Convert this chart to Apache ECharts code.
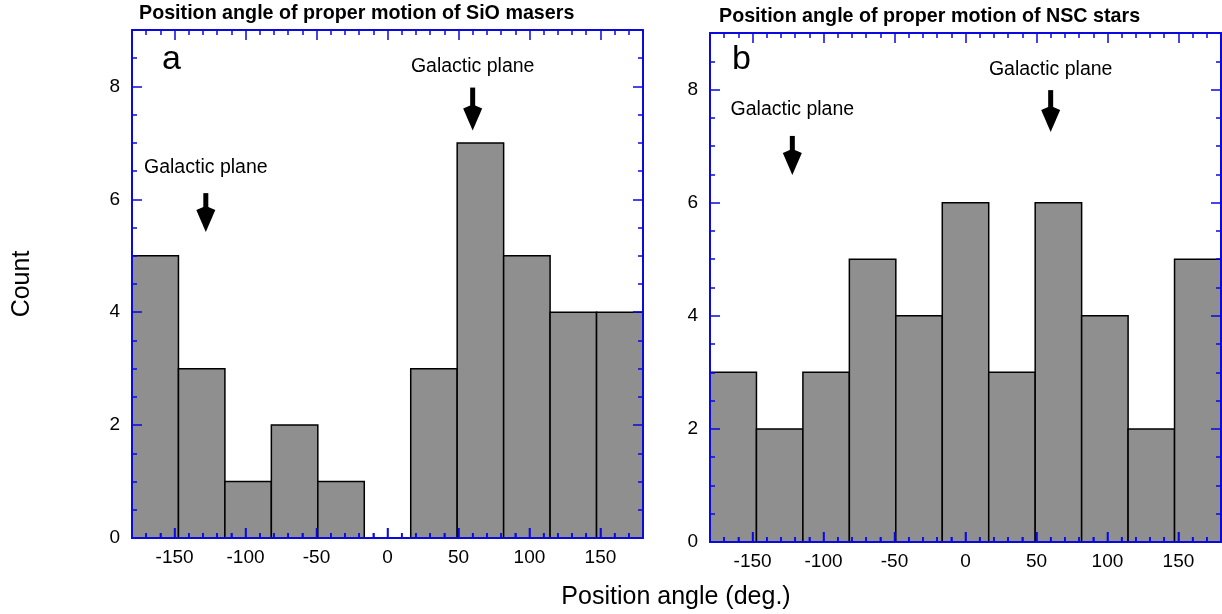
<!DOCTYPE html>
<html>
<head>
<meta charset="utf-8">
<script src="https://cdn.jsdelivr.net/npm/echarts@6/dist/echarts.min.js"></script>
<style>
  html, body { margin: 0; padding: 0; background: #ffffff; }
  #chart { width: 1222px; height: 614px; }
</style>
</head>
<body>
<div id="chart"></div>
<script>
// Histogram bin edges (deg): 11 bins spanning -180..180
const binEdges = [-180, -147.27, -114.55, -81.82, -49.09, -16.36, 16.36, 49.09, 81.82, 114.55, 147.27, 180];
// Counts per bin
const sioCounts = [5, 3, 1, 2, 1, 0, 3, 7, 5, 4, 4];
const nscCounts = [3, 2, 3, 5, 4, 6, 3, 6, 4, 2, 5];
// Position angles of the Galactic plane marked in each panel (deg)
const planeAnglesSiO = [-128, 60];
const planeAnglesNSC = [-122, 60];
// Tick labels
const xTickLabels = [-150, -100, -50, 0, 50, 100, 150];
const yTickLabels = [0, 2, 4, 6, 8];
const panelTitles = ['Position angle of proper motion of SiO masers', 'Position angle of proper motion of NSC stars'];
const panelLetters = ['a', 'b'];
const planeLabel = 'Galactic plane';
const xAxisTitle = 'Position angle (deg.)';
const yAxisTitle = 'Count';

const FONT = '"Liberation Sans", Arial, Helvetica, sans-serif';
const AXIS_BLUE = '#0a0ae0';
const BAR_FILL = '#8f8f8f';
const TICK_FONT_SIZE = 19;

const chart = echarts.init(document.getElementById('chart'), null, { renderer: 'canvas' });

const grids = [
  { left: 132, top: 30, width: 511, height: 508 },
  { left: 710, top: 33, width: 511, height: 509 }
];

const tickStyle = { color: AXIS_BLUE, width: 1.5 };
const lineStyle = { color: AXIS_BLUE, width: 2 };

// Per side of each panel: one axis with the frame line and minor ticks,
// one axis with the major ticks (and, on the labelled sides, the tick labels)
function xAxesFor(g) {
  const base = { gridIndex: g, type: 'value', min: -180, max: 180, z: 10, splitLine: { show: false } };
  const minor = pos => Object.assign({}, base, {
    position: pos, interval: 10,
    axisLine: { show: true, onZero: false, lineStyle: lineStyle },
    axisTick: { show: true, inside: true, length: 5, lineStyle: tickStyle },
    axisLabel: { show: false }
  });
  const major = (pos, labelled) => Object.assign({}, base, {
    position: pos,
    axisLine: { show: false, onZero: false },
    axisTick: { show: true, inside: true, length: 10, customValues: xTickLabels, lineStyle: tickStyle },
    axisLabel: labelled
      ? { show: true, customValues: xTickLabels, margin: 10, color: '#000', fontSize: TICK_FONT_SIZE, fontFamily: FONT }
      : { show: false }
  });
  return [minor('bottom'), major('bottom', true), minor('top'), major('top', false)];
}

function yAxesFor(g) {
  const base = { gridIndex: g, type: 'value', min: 0, max: 9, z: 10, splitLine: { show: false } };
  const minor = pos => Object.assign({}, base, {
    position: pos, interval: 0.5,
    axisLine: { show: true, onZero: false, lineStyle: lineStyle },
    axisTick: { show: true, inside: true, length: 5, lineStyle: tickStyle },
    axisLabel: { show: false }
  });
  const major = (pos, labelled) => Object.assign({}, base, {
    position: pos,
    axisLine: { show: false, onZero: false },
    axisTick: { show: true, inside: true, length: 10, customValues: yTickLabels, lineStyle: tickStyle },
    axisLabel: labelled
      ? { show: true, customValues: yTickLabels, margin: 12, color: '#000', fontSize: TICK_FONT_SIZE, fontFamily: FONT }
      : { show: false }
  });
  return [minor('left'), major('left', true), minor('right'), major('right', false)];
}

// Histogram bars: each item is [left edge, right edge, count]
function barData(counts) {
  return counts.map((c, i) => [binEdges[i], binEdges[i + 1], c]);
}

function renderBar(params, api) {
  const count = api.value(2);
  if (!count) return null;
  const p0 = api.coord([api.value(0), count]);
  const p1 = api.coord([api.value(1), 0]);
  return {
    type: 'rect',
    shape: { x: p0[0], y: p0[1], width: p1[0] - p0[0], height: p1[1] - p0[1] },
    style: { fill: BAR_FILL, stroke: '#000', lineWidth: 1.5 }
  };
}

// Inward ticks along the bottom frame, drawn above the bars:
// every 10 deg, with longer ticks at the labelled angles
function renderBottomTicks(params, api) {
  const children = [];
  for (let v = -170; v <= 170; v += 10) {
    const p = api.coord([v, 0]);
    const len = xTickLabels.indexOf(v) >= 0 ? 10 : 5;
    children.push({
      type: 'line',
      shape: { x1: p[0], y1: p[1], x2: p[0], y2: p[1] - len },
      style: { stroke: AXIS_BLUE, lineWidth: 1.5 }
    });
  }
  return { type: 'group', children: children };
}

// Downward arrow with label: item is [angle, label y, arrow top y, arrow tip y]
function renderArrow(params, api) {
  const x = api.value(0);
  const lab = api.coord([x, api.value(1)]);
  const top = api.coord([x, api.value(2)]);
  const tip = api.coord([x, api.value(3)]);
  const headLen = 25, headW = 19, shaftW = 5;
  const cx = tip[0];
  const hy = tip[1] - headLen;
  return {
    type: 'group',
    children: [
      {
        type: 'rect',
        shape: { x: cx - shaftW / 2, y: top[1], width: shaftW, height: hy - top[1] + 2 },
        style: { fill: '#000' }
      },
      {
        type: 'polygon',
        shape: { points: [[cx - shaftW / 2, hy], [cx - headW / 2, hy + 3], [cx, tip[1]], [cx + headW / 2, hy + 3], [cx + shaftW / 2, hy]] },
        style: { fill: '#000' }
      },
      {
        type: 'text',
        x: lab[0], y: lab[1],
        style: {
          text: planeLabel, fill: '#000', fontSize: 19.5, fontFamily: FONT,
          align: 'center', verticalAlign: 'middle'
        }
      }
    ]
  };
}

const arrowsSiO = [
  [planeAnglesSiO[0], 6.56, 6.11, 5.42],
  [planeAnglesSiO[1], 8.35, 7.98, 7.22]
];
const arrowsNSC = [
  [planeAnglesNSC[0], 7.64, 7.18, 6.49],
  [planeAnglesNSC[1], 8.35, 7.99, 7.25]
];

const option = {
  animation: false,
  backgroundColor: '#ffffff',
  grid: grids,
  xAxis: xAxesFor(0).concat(xAxesFor(1)),
  yAxis: yAxesFor(0).concat(yAxesFor(1)),
  series: [
    { type: 'custom', name: 'SiO masers', xAxisIndex: 0, yAxisIndex: 0, z: 2, renderItem: renderBar, data: barData(sioCounts) },
    { type: 'custom', name: 'NSC stars', xAxisIndex: 4, yAxisIndex: 4, z: 2, renderItem: renderBar, data: barData(nscCounts) },
    { type: 'custom', xAxisIndex: 0, yAxisIndex: 0, z: 3, renderItem: renderArrow, data: arrowsSiO },
    { type: 'custom', xAxisIndex: 4, yAxisIndex: 4, z: 3, renderItem: renderArrow, data: arrowsNSC },
    { type: 'custom', xAxisIndex: 0, yAxisIndex: 0, z: 12, clip: false, silent: true, renderItem: renderBottomTicks, data: [[0, 0]] },
    { type: 'custom', xAxisIndex: 4, yAxisIndex: 4, z: 12, clip: false, silent: true, renderItem: renderBottomTicks, data: [[0, 0]] }
  ],
  graphic: [
    { type: 'text', x: 139, y: 14, style: { text: panelTitles[0], fill: '#000', font: 'bold 19.7px ' + FONT, verticalAlign: 'middle' } },
    { type: 'text', x: 719, y: 17, style: { text: panelTitles[1], fill: '#000', font: 'bold 19.7px ' + FONT, verticalAlign: 'middle' } },
    { type: 'text', x: 162, y: 60, style: { text: panelLetters[0], fill: '#000', font: '34px ' + FONT, verticalAlign: 'middle' } },
    { type: 'text', x: 732, y: 60, style: { text: panelLetters[1], fill: '#000', font: '34px ' + FONT, verticalAlign: 'middle' } },
    { type: 'text', x: 22, y: 284, rotation: Math.PI / 2, style: { text: yAxisTitle, fill: '#000', font: '25px ' + FONT, align: 'center', verticalAlign: 'middle' } },
    { type: 'text', x: 676, y: 597, style: { text: xAxisTitle, fill: '#000', font: '25px ' + FONT, align: 'center', verticalAlign: 'middle' } }
  ]
};

chart.setOption(option);
</script>
</body>
</html>
